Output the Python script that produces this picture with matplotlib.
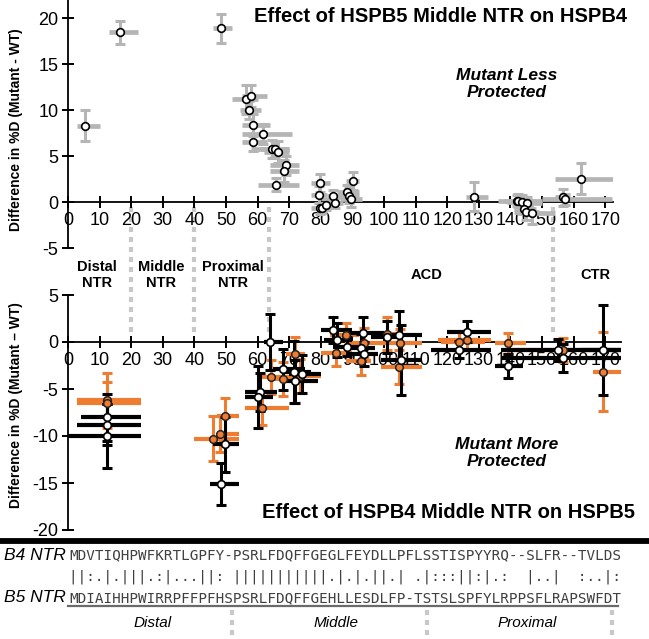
import matplotlib
matplotlib.use("Agg")
import matplotlib.pyplot as plt
from matplotlib.transforms import blended_transform_factory

plt.rcParams['font.family'] = ['Liberation Sans', 'DejaVu Sans']
plt.rcParams['axes.unicode_minus'] = False

# ---- top panel: effect of HSPB5 middle NTR on HSPB4 (gray) ----
top_x = [5.4, 16.5, 48.3, 56.3, 57.9, 57.4, 58.5, 61.8, 58.5, 64.5, 65.5, 66.3, 68.9, 68.4, 65.9,
         79.7, 79.3, 79.7, 80.5, 81.5, 84.0, 84.5, 90.1, 88.2, 88.9, 89.5,
         128.5, 142.0, 142.5, 143.6, 145.3, 144.3, 144.8, 146.9, 156.5, 157.4, 162.3]
top_y = [8.3, 18.5, 18.9, 11.2, 11.6, 10.0, 8.4, 7.4, 6.5, 5.8, 5.8, 5.4, 4.0, 3.4, 1.9,
         2.1, 0.8, -0.65, -0.65, -0.3, 0.7, -0.1, 2.3, 1.1, 0.7, 0.3,
         0.6, 0.15, 0.15, 0.05, -0.05, -0.7, -1.1, -1.2, 0.5, 0.3, 2.55]
top_err = [1.7, 1.25, 1.6, 1.6, 1.2, 1.0, 1.2, 1.1, 0.9, 1.0, 0.9, 1.2, 1.0, 1.2, 0.7,
           1.0, 0.9, 0.6, 0.5, 0.6, 0.6, 0.5, 1.0, 0.8, 0.8, 0.8,
           1.6, 0.6, 0.7, 0.7, 0.6, 0.6, 0.9, 1.2, 0.9, 0.6, 1.7]
top_start = [3, 13, 46, 52, 55, 54.5, 55, 55, 55, 58, 61, 62, 64, 64, 60,
             77, 77, 77, 78, 79, 82, 82, 88, 85, 86, 86,
             126, 136, 138, 139, 141, 141, 141, 142, 154, 150, 154]
top_end = [10, 22, 52, 60, 63, 61, 64, 71, 63, 70, 70, 70, 73, 73, 73,
           83, 82, 82, 83, 85, 87, 87, 92, 92, 92, 93,
           133, 150, 148, 147, 150, 148, 149, 154, 159, 172, 172.5]

# ---- bottom panel: effect of HSPB4 middle NTR on HSPB5 ----
blk_x = [12.4, 12.2, 12.2, 49.7, 48.4, 63.9, 68.1, 71.6, 71.9, 74.0, 60.8, 60.0,
         84.0, 85.0, 88.2, 93.2, 92.6, 93.7, 101.0, 104.8, 105.3,
         126.4, 123.7, 139.1, 155.2, 156.7, 169.4]
blk_y = [-8.0, -8.8, -10.0, -10.9, -15.1, 0.0, -2.9, -3.2, -4.2, -3.4, -5.3, -5.9,
         1.3, 0.2, -0.5, 1.0, -0.6, -1.3, 0.5, 0.7, -1.9,
         1.1, -0.8, -2.55, -0.85, -1.7, -0.85]
blk_err = [2.5, 2.2, 3.4, 2.9, 2.2, 3.0, 2.2, 3.3, 2.3, 2.0, 2.0, 3.3,
           1.4, 1.8, 1.0, 1.7, 1.4, 1.3, 1.7, 2.6, 3.7,
           1.1, 0.9, 1.3, 1.2, 1.5, 4.75]
blk_start = [4, 3, 0, 46, 45, 62, 65, 68, 68, 70, 56, 56,
             80, 81, 84, 88, 88, 89, 96, 98, 99,
             120, 115, 135, 137, 137, 162]
blk_end = [23, 23, 23, 54, 54, 68, 75, 77, 79, 80, 66, 65,
           90, 90, 92, 100, 97, 98, 104, 112, 112,
           134, 134, 144, 175, 175, 175]

org_x = [12.2, 12.4, 46.0, 48.1, 49.7, 64.1, 68.1, 71.9, 73.4, 61.3,
         84.8, 88.0, 93.7, 92.6, 101.0, 105.1, 104.8,
         126.4, 123.7, 139.1, 156.5, 169.4]
org_y = [-6.2, -6.5, -10.3, -9.8, -7.9, -3.7, -3.9, -1.3, -3.6, -7.0,
         -1.2, 0.75, -0.1, -2.0, 0.9, -0.15, -2.7,
         0.2, 0.03, -0.15, -0.85, -3.15]
org_err = [2.9, 2.2, 2.4, 1.9, 1.9, 1.8, 1.8, 1.8, 1.8, 1.8,
           1.3, 1.3, 1.6, 1.5, 1.8, 1.5, 1.8,
           1.0, 1.0, 1.1, 1.3, 4.2]
org_start = [3, 3, 40, 47, 47, 60, 64, 69, 70, 56,
             80, 83, 88, 88, 96, 99, 99,
             117, 118, 135, 137, 166]
org_end = [23, 23, 54, 54, 54, 72, 73, 75, 80, 70,
           90, 92, 100, 96, 104, 112, 112,
           134, 132, 145, 175, 175]

region_names = ['Distal\nNTR', 'Middle\nNTR', 'Proximal\nNTR', 'ACD', 'CTR']
region_pos = [9.2, 29.4, 52.2, 113.6, 166.8]
region_bounds = [20, 40, 63.5, 153.5]

b4_seq = 'MDVTIQHPWFKRTLGPFY-PSRLFDQFFGEGLFEYDLLPFLSSTISPYYRQ--SLFR--TVLDS'
match = '||:.|.|||.:|...||: |||||||||||.|.|.||.| .|:::||:|.:  |..|  :..|:'
b5_seq = 'MDIAIHHPWIRRPFFPFHSPSRLFDQFFGEHLLESDLFP-TSTSLSPFYLRPPSFLRAPSWFDT'

GRAY = '#b5b5b5'
ORANGE = '#ee7d31'
W, H = 649, 639

fig = plt.figure(figsize=(W / 100, H / 100), dpi=100)
ax_top = fig.add_axes([68 / W, 1 - 248 / H, 172.5 * 3.16 / W, 248 / H])
ax_bot = fig.add_axes([68 / W, 1 - 530 / H, 175 * 3.16 / W, 235 / H])


def style_axis(ax):
    for s in ['top', 'right']:
        ax.spines[s].set_visible(False)
    ax.spines['bottom'].set_position(('data', 0))
    ax.spines['bottom'].set_linewidth(1.3)
    ax.spines['left'].set_linewidth(1.3)
    ax.set_facecolor('none')
    ax.set_xticks(range(0, 171, 10))
    ax.tick_params(direction='inout', length=8, width=1.4, labelsize=13, pad=3)


style_axis(ax_top)
ax_top.set_xlim(0, 172.5)
ax_top.set_ylim(-5, 22)
ax_top.set_yticks([-5, 0, 5, 10, 15, 20])

ax_top.hlines(top_y, top_start, top_end, color=GRAY, lw=3.4, zorder=3)
ax_top.errorbar(top_x, top_y, yerr=top_err, fmt='none', ecolor=GRAY,
                elinewidth=2.2, capsize=3.5, capthick=2.2, zorder=3)
ax_top.plot(top_x, top_y, 'o', mfc='white', mec='black', ms=5.5, mew=1.2, zorder=4)

style_axis(ax_bot)
ax_bot.set_xlim(0, 175)
ax_bot.set_ylim(-20, 5)
ax_bot.set_yticks([-20, -15, -10, -5, 0, 5])

ax_bot.hlines(org_y, org_start, org_end, color=ORANGE, lw=3.0, zorder=3)
ax_bot.errorbar(org_x, org_y, yerr=org_err, fmt='none', ecolor=ORANGE,
                elinewidth=2.2, capsize=3.5, capthick=2.2, zorder=3)
ax_bot.hlines(blk_y, blk_start, blk_end, color='black', lw=3.0, zorder=4)
ax_bot.errorbar(blk_x, blk_y, yerr=blk_err, fmt='none', ecolor='black',
                elinewidth=2.2, capsize=3.5, capthick=2.2, zorder=4)
ax_bot.plot(org_x, org_y, 'o', mfc=ORANGE, mec='#222222', ms=5.5, mew=1.1, zorder=5)
ax_bot.plot(blk_x, blk_y, 'o', mfc='white', mec='black', ms=5.5, mew=1.2, zorder=6)

# region boundaries and labels between the panels
tr = blended_transform_factory(ax_top.transData, fig.transFigure)
for xb in region_bounds:
    ax_top.plot([xb, xb], [1 - 207 / H, 1 - 333 / H], transform=tr, color='#c8c8c8',
                lw=3, ls=(0, (1.2, 1.2)), clip_on=False, zorder=1)
for name, xp in zip(region_names, region_pos):
    ax_top.text(xp, 1 - 275 / H, name, transform=tr, ha='center', va='center',
                fontsize=10.5, fontweight='bold', linespacing=1.15)

# titles and annotations
fig.text(441 / W, 1 - 17 / H, 'Effect of HSPB5 Middle NTR on HSPB4', ha='center', va='center',
         fontsize=14.5, fontweight='bold')
fig.text(449 / W, 1 - 512 / H, 'Effect of HSPB4 Middle NTR on HSPB5', ha='center', va='center',
         fontsize=14.5, fontweight='bold')
fig.text(507 / W, 1 - 84 / H, 'Mutant Less\nProtected', ha='center', va='center',
         fontsize=12.5, fontweight='bold', fontstyle='italic', linespacing=1.2)
fig.text(507 / W, 1 - 453 / H, 'Mutant More\nProtected', ha='center', va='center',
         fontsize=12.5, fontweight='bold', fontstyle='italic', linespacing=1.2)
fig.text(16 / W, 1 - 130 / H, 'Difference in %D (Mutant - WT)', rotation=90,
         ha='center', va='center', fontsize=10, fontweight='bold')
fig.text(16 / W, 1 - 405 / H, 'Difference in %D (Mutant \u2013 WT)', rotation=90,
         ha='center', va='center', fontsize=10, fontweight='bold')

# sequence alignment strip
ax_seq = fig.add_axes([0, 0, 1, 1])
ax_seq.set_xlim(0, W)
ax_seq.set_ylim(H, 0)
ax_seq.axis('off')
ax_seq.plot([0, W], [540.5, 540.5], color='black', lw=4.2, solid_capstyle='butt')
ax_seq.text(4, 555, 'B4 NTR', fontsize=12.5, fontstyle='italic', va='center', ha='left')
ax_seq.text(4, 598, 'B5 NTR', fontsize=12.5, fontstyle='italic', va='center', ha='left')
mono = dict(family='DejaVu Sans Mono', fontsize=10.24, color='#404040', va='center', ha='left')
ax_seq.text(69, 555, b4_seq, **mono)
ax_seq.text(69, 577, match, **mono)
ax_seq.text(69, 598, b5_seq, **mono)
ax_seq.plot([68, 618], [606, 606], color='#6a6a6a', lw=1.6)
for xs in [232, 427, 612]:
    ax_seq.plot([xs, xs], [610, 639], color='#c8c8c8', lw=3, ls=(0, (1.2, 1.2)))
for name, xs in [('Distal', 153), ('Middle', 336), ('Proximal', 527)]:
    ax_seq.text(xs, 623, name, fontsize=11, fontstyle='italic', ha='center', va='center')

fig.savefig('out.png', dpi=100)
